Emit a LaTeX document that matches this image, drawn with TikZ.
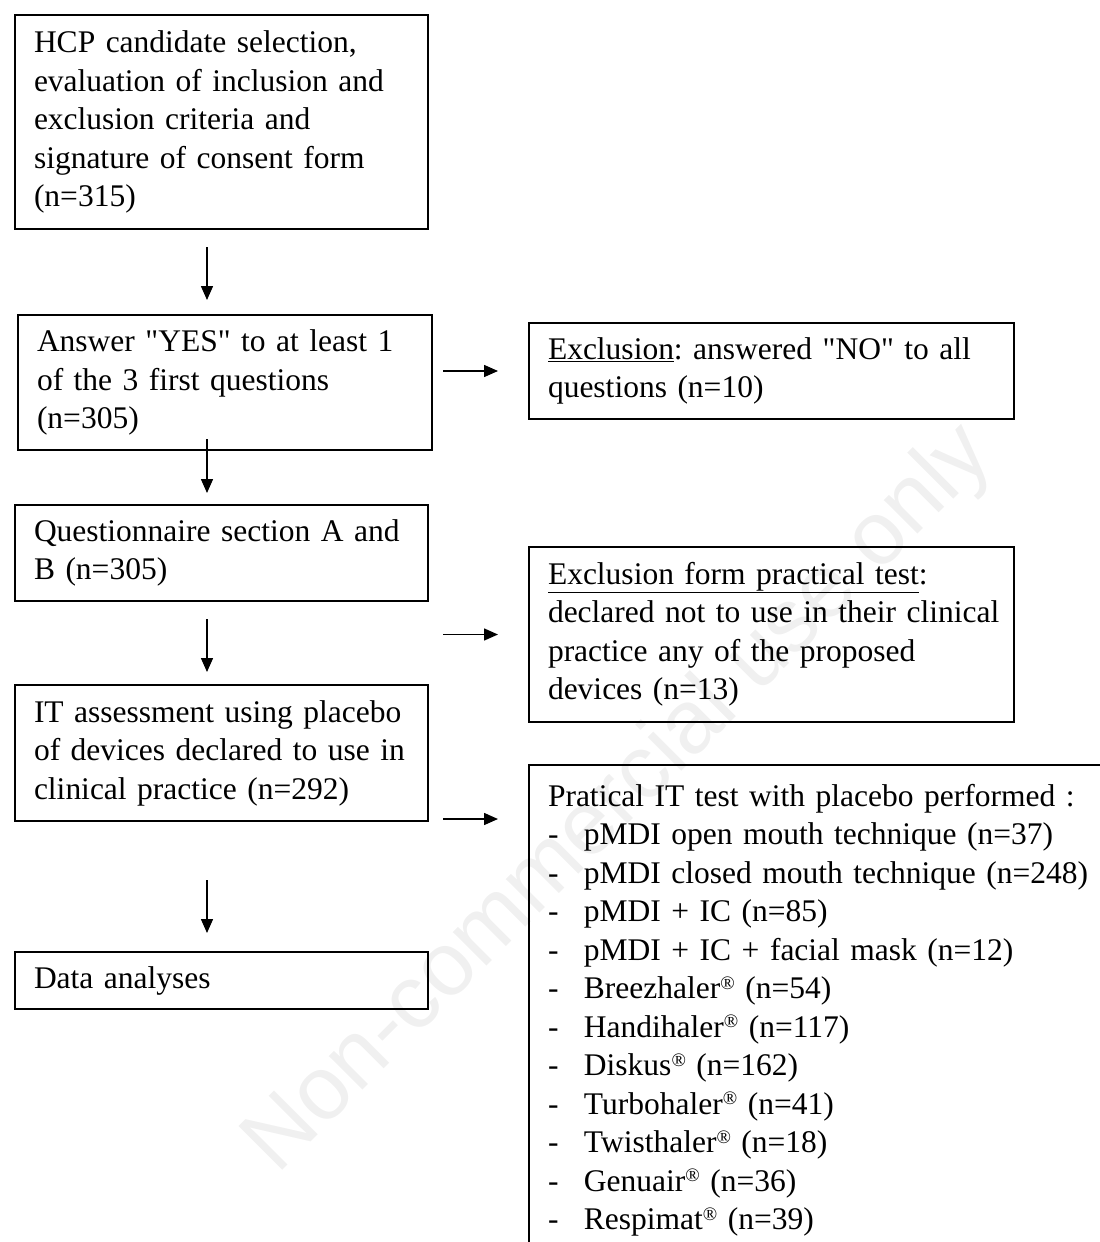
\documentclass[tikz,border=0pt]{standalone}
\usepackage{fontspec}
\setmainfont{Liberation Serif}
\setsansfont{Liberation Sans}
\usetikzlibrary{arrows.meta}

\newcommand{\itm}[1]{\makebox[36pt][l]{-}#1}
\newcommand{\reg}{\raisebox{0.3em}{\fontsize{19}{19}\selectfont ®}}
\newcommand{\dq}{\textquotedbl}

\begin{document}
\frenchspacing
\begin{tikzpicture}[x=1pt,y=-1pt,
				every node/.style={font=\fontsize{31.5}{38.5}\selectfont},
				box/.style={draw,line width=2pt,anchor=north west,align=left,inner xsep=19pt,inner ysep=0pt},
				arr/.style={line width=1.5pt,-{Triangle[length=14pt,width=12pt]}}]
				\useasboundingbox (0,0) rectangle (1100,1242);
				\clip (0,0) rectangle (1100,1242);
				\node[rotate=45,text=black!6,font=\sffamily\fontsize{90}{90}\selectfont] (wm) at (620,800) {Non-commercial use only};
				% left column
				\node[box,text width=375pt,minimum height=214pt] (hcp) at (14,14) {HCP candidate selection,\\evaluation of inclusion and\\exclusion criteria and\\signature of consent form\\(n=315)};
				\node[box,text width=376pt,minimum height=135pt] (yes) at (17,314) {Answer \dq YES\dq{} to at least 1\\of the 3 first questions\\(n=305)};
				\node[box,text width=375pt,minimum height=96pt] (quest) at (14,504) {Questionnaire section A and\\B (n=305)};
				\node[box,text width=375pt,minimum height=136pt] (assess) at (14,684) {IT assessment using placebo\\of devices declared to use in\\clinical practice (n=292)};
				\node[box,text width=375pt,minimum height=57pt] (data) at (14,951) {Data analyses};
				% right column
				\node[box,text width=447pt,minimum height=96pt] (excl) at (528,322) {\underline{Exclusion}: answered \dq NO\dq{} to all\\questions (n=10)};
				\node[box,text width=447pt,minimum height=175pt] (exclpt) at (528,546) {\underline{Exclusion form practical test}:\\\mbox{declared not to use in their clinical}\\practice any of the proposed\\devices (n=13)};
				\node[box,text width=560pt,inner ysep=19pt] (pract) at (528,764) {Pratical IT test with placebo performed :\\
					\itm{pMDI open mouth technique (n=37)}\\
					\itm{pMDI closed mouth technique (n=248)}\\
					\itm{pMDI + IC (n=85)}\\
					\itm{pMDI + IC + facial mask (n=12)}\\
					\itm{Breezhaler\reg{} (n=54)}\\
					\itm{Handihaler\reg{} (n=117)}\\
					\itm{Diskus\reg{} (n=162)}\\
					\itm{Turbohaler\reg{} (n=41)}\\
					\itm{Twisthaler\reg{} (n=18)}\\
					\itm{Genuair\reg{} (n=36)}\\
					\itm{Respimat\reg{} (n=39)}};
				% arrows
				\coordinate (axis) at (207,0);
				\draw[arr,shorten <=17pt,shorten >=14pt] (hcp.south -| axis) -- (yes.north -| axis);
				\draw[arr,shorten <=-12pt,shorten >=11pt] (yes.south -| axis) -- (quest.north -| axis);
				\draw[arr,shorten <=17pt,shorten >=12pt] (quest.south -| axis) -- (assess.north -| axis);
				\draw[arr,shorten <=58pt,shorten >=18pt] (assess.south -| axis) -- (data.north -| axis);
				\draw[arr] ([xshift=-85pt]excl.west) -- ([xshift=-30pt]excl.west);
				\draw[arr] ([xshift=-85pt]exclpt.west) -- ([xshift=-30pt]exclpt.west);
				\draw[arr] ([xshift=-85pt,yshift=-55pt]pract.north west) -- ([xshift=-30pt,yshift=-55pt]pract.north west);
			\end{tikzpicture}
\end{document}
